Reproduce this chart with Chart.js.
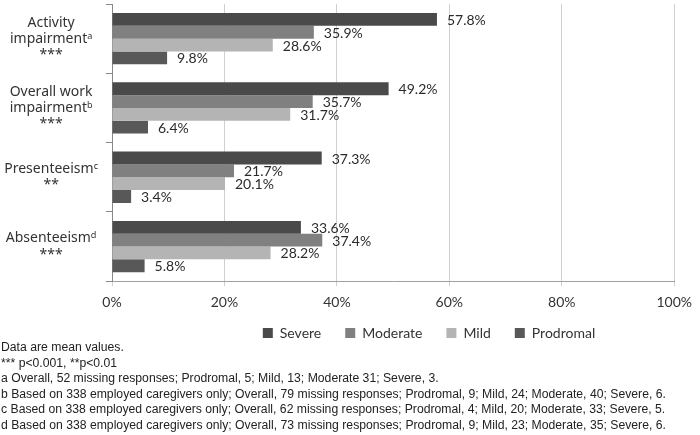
<!DOCTYPE html>
<html>
<head>
<meta charset="utf-8">
<script src="https://cdn.jsdelivr.net/npm/chart.js@4"></script>
<style>
  body { margin: 0; background: #fff; }
  #wrap { position: relative; width: 700px; height: 435px; }
  #box { position: absolute; left: 0; top: 0; width: 700px; height: 367px; }
  #notes { position: absolute; left: 1px; top: 340px; font: 12.5px "Liberation Sans Narrow", "Liberation Sans", sans-serif;
    line-height: 15.5px; color: #222; white-space: nowrap; transform-origin: 0 0; }
</style>
</head>
<body>
<div id="wrap">
  <div id="box"><canvas id="myChart"></canvas></div>
  <div id="notes"></div>
</div>
<script>
const categories = [
  ['Activity', 'impairment\u1D43', '***'],
  ['Overall work', 'impairment\u1D47', '***'],
  ['Presenteeism\u1D9C', '**'],
  ['Absenteeism\u1D48', '***']
];
const severe = [57.8, 49.2, 37.3, 33.6];
const moderate = [35.9, 35.7, 21.7, 37.4];
const mild = [28.6, 31.7, 20.1, 28.2];
const prodromal = [9.8, 6.4, 3.4, 5.8];
const xTicks = [0, 20, 40, 60, 80, 100];
const footnotes = [
  'Data are mean values.',
  '*** p<0.001, **p<0.01',
  'a Overall, 52 missing responses; Prodromal, 5; Mild, 13; Moderate 31; Severe, 3.',
  'b Based on 338 employed caregivers only; Overall, 79 missing responses; Prodromal, 9; Mild, 24; Moderate, 40; Severe, 6.',
  'c Based on 338 employed caregivers only; Overall, 62 missing responses; Prodromal, 4; Mild, 20; Moderate, 33; Severe, 5.',
  'd Based on 338 employed caregivers only; Overall, 73 missing responses; Prodromal, 9; Mild, 23; Moderate, 35; Severe, 6.'
];

// footnotes as plain text, squeezed to the reference width
const notes = document.getElementById('notes');
footnotes.forEach(t => {
  const d = document.createElement('div');
  d.textContent = t;
  notes.appendChild(d);
});
const w = notes.scrollWidth;
notes.style.transform = 'scaleX(' + Math.min(1, 665 / w) + ')';

const font = 'Lato, "Liberation Sans", sans-serif';

// value labels at the end of each bar
const barLabels = {
  id: 'barLabels',
  afterDatasetsDraw(chart) {
    const ctx = chart.ctx;
    ctx.save();
    ctx.font = '14px ' + font;
    ctx.fillStyle = '#2b2b2b';
    ctx.textAlign = 'left';
    ctx.textBaseline = 'middle';
    chart.data.datasets.forEach((ds, i) => {
      chart.getDatasetMeta(i).data.forEach((bar, j) => {
        ctx.fillText(ds.data[j].toFixed(1) + '%', bar.x + 10, bar.y + 1);
      });
    });
    ctx.restore();
  }
};

// move legend up and to the right, like the original
const legendShift = {
  id: 'legendShift',
  afterLayout(chart) {
    const lg = chart.legend;
    lg.left += 86; lg.right += 86;
    lg.top -= 17; lg.bottom -= 17;
  }
};

const ctx = document.getElementById('myChart').getContext('2d');
const myChart = new Chart(ctx, {
  type: 'bar',
  data: {
    labels: categories,
    datasets: [
      { label: 'Severe', data: severe, backgroundColor: '#4a4a4a' },
      { label: 'Moderate', data: moderate, backgroundColor: '#808080' },
      { label: 'Mild', data: mild, backgroundColor: '#b4b4b4' },
      { label: 'Prodromal', data: prodromal, backgroundColor: '#585858' }
    ]
  },
  plugins: [barLabels, legendShift],
  options: {
    indexAxis: 'y',
    responsive: true,
    maintainAspectRatio: false,
    animation: false,
    layout: { padding: { top: 4, right: 14, left: 0, bottom: 0 } },
    datasets: { bar: { categoryPercentage: 0.74, barPercentage: 1, borderWidth: 0 } },
    plugins: {
      legend: {
        position: 'bottom',
        labels: { boxWidth: 10, boxHeight: 10, padding: 24, color: '#333', font: { family: font, size: 14 } }
      },
      tooltip: { enabled: false }
    },
    scales: {
      x: {
        min: 0,
        max: 100,
        afterBuildTicks(scale) { scale.ticks = xTicks.map(v => ({ value: v })); },
        grid: { color: '#d0d0d0', tickLength: 5 },
        border: { color: '#a0a0a0' },
        ticks: { padding: 8, color: '#333', font: { family: font, size: 14 }, callback: v => v + '%' }
      },
      y: {
        grid: { drawOnChartArea: false, tickLength: 6, color: '#888' },
        border: { color: '#888' },
        ticks: { crossAlign: 'center', padding: 8, color: '#333', font: { family: '"Noto Sans", sans-serif', size: 14, lineHeight: 1.15 } },
        afterFit(scale) { scale.width = 112; scale.paddingTop = 0; scale.paddingBottom = 0; }
      }
    }
  }
});
</script>
</body>
</html>
